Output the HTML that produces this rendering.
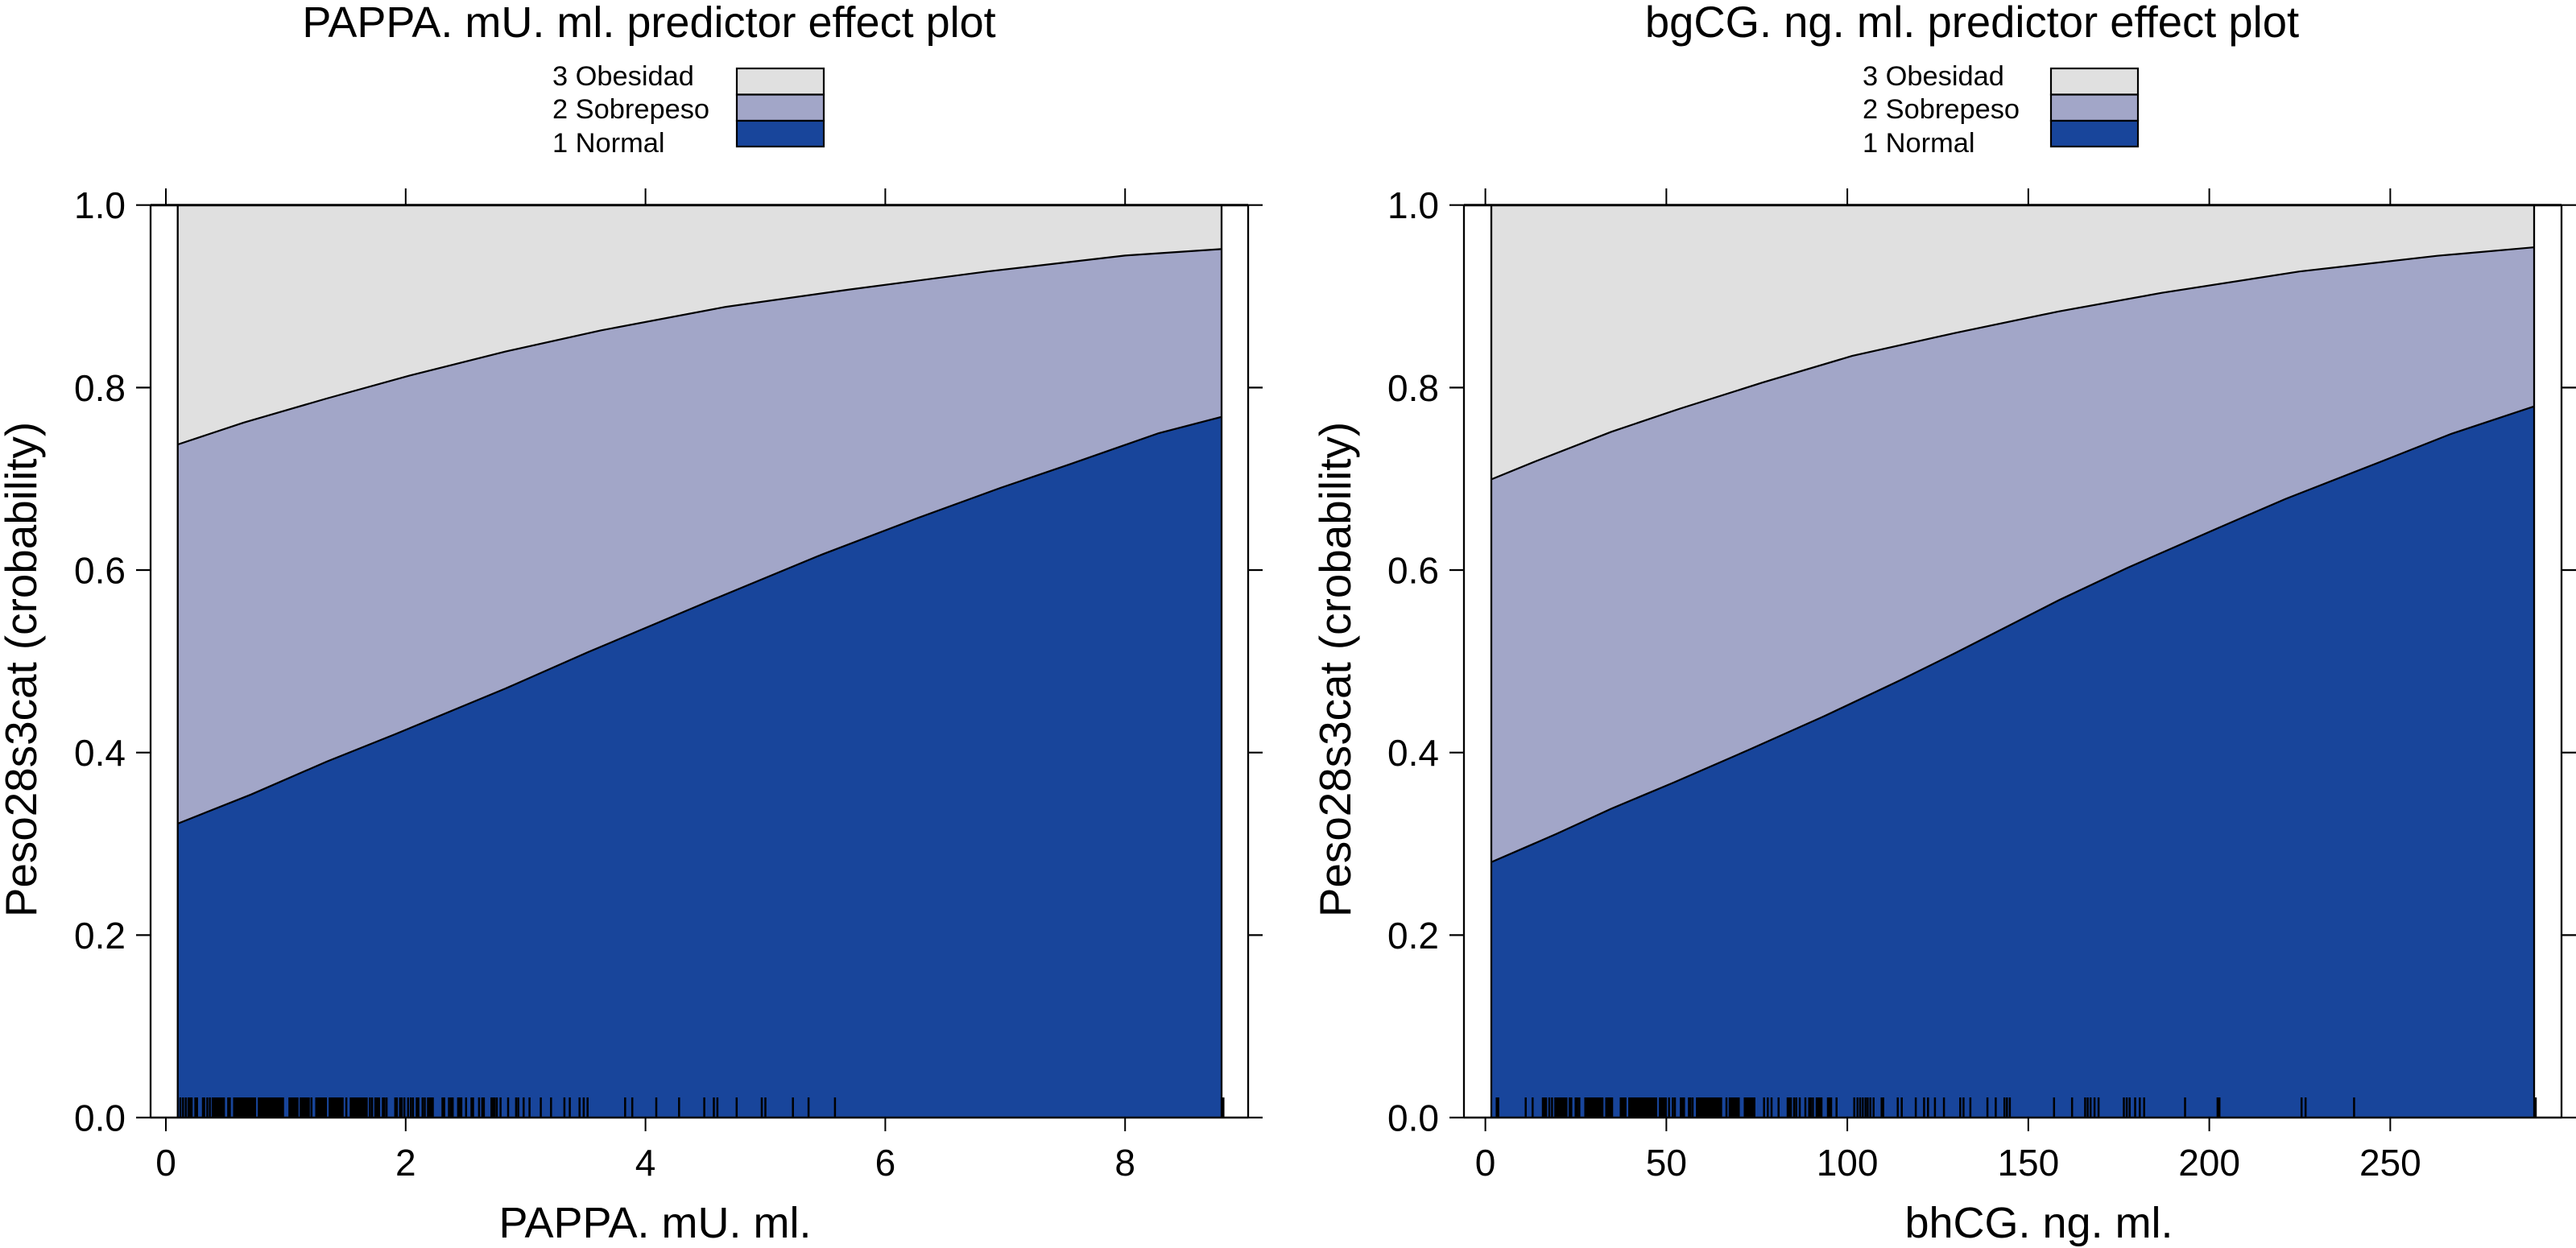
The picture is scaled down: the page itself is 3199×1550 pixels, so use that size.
<!DOCTYPE html>
<html lang="en">
<head>
<meta charset="utf-8">
<title>Predictor effect plots</title>
<style>
html,body{margin:0;padding:0;background:#fff;}
svg{display:block;font-family:"Liberation Sans",Arial,sans-serif;}
</style>
</head>
<body>
<svg id="chart" xmlns="http://www.w3.org/2000/svg" width="3199" height="1550" viewBox="0 0 3199 1550"></svg>
<script>
/* ---------- shared labels and ticks ---------- */
const yTicks = [0, 0.2, 0.4, 0.6, 0.8, 1.0];
const yTickLabels = ["0.0", "0.2", "0.4", "0.6", "0.8", "1.0"];
const legendLabels = ["3 Obesidad", "2 Sobrepeso", "1 Normal"];
const yTitle = "Peso28s3cat (crobability)";

/* ---------- PAPPA panel data ---------- */
const pappaTicks = [0, 2, 4, 6, 8];
const pappaRange = [0.1, 8.8];
const pappaNormalX = [0.1, 0.71, 1.34, 1.91, 2.83, 3.52, 4.55, 5.47, 6.27, 6.96, 7.54, 8.28, 8.8];
const pappaNormalCum = [0.3222, 0.354, 0.39, 0.42, 0.47, 0.51, 0.567, 0.617, 0.657, 0.69, 0.716, 0.75, 0.7678];
const pappaSobrepesoX = [0.1, 0.65, 1.34, 2.03, 2.83, 3.63, 4.67, 5.7, 6.85, 8.0, 8.8];
const pappaSobrepesoCum = [0.7377, 0.7617, 0.788, 0.813, 0.8394, 0.8627, 0.8885, 0.9074, 0.9272, 0.9447, 0.9517];
const pappaRug = [0.121,0.143,0.166,0.188,0.202,0.215,0.246,0.260,0.309,0.320,0.345,0.367,
0.390,0.403,0.417,0.430,0.443,0.457,0.470,0.484,0.520,0.533,
0.569,0.582,0.596,0.609,0.623,0.636,0.650,0.663,0.676,0.690,0.703,0.717,0.730,0.744,
0.775,0.788,0.802,0.815,0.829,0.842,0.856,0.869,0.882,0.896,0.909,0.923,0.936,0.950,0.963,0.977,
1.030,1.044,1.057,1.071,1.084,1.098,1.124,1.138,1.151,1.165,1.178,1.192,1.214,
1.254,1.268,1.281,1.295,1.308,1.322,1.335,1.366,1.380,1.393,1.407,1.420,1.434,1.447,1.460,1.474,1.505,
1.541,1.554,1.568,1.581,1.595,1.608,1.622,1.635,1.649,1.662,1.675,1.702,1.720,1.747,1.761,1.778,
1.810,1.823,1.841,1.913,1.926,1.953,1.967,1.989,2.020,2.043,2.061,2.092,2.106,2.141,2.159,
2.186,2.200,2.213,2.226,2.307,2.321,2.361,2.379,2.392,2.437,2.450,2.464,2.504,2.549,2.562,2.612,
2.639,2.652,2.715,2.728,2.742,2.760,2.791,2.854,2.921,2.939,2.984,3.033,3.127,3.212,3.324,3.369,3.450,3.485,3.517,
3.83,3.89,4.09,4.28,4.49,4.57,4.60,4.76,4.97,5.00,5.23,5.36,5.58,8.81,8.82];

/* ---------- bhCG panel data ---------- */
const bhcgTicks = [0, 50, 100, 150, 200, 250];
const bhcgRange = [1.6, 289.7];
const bhcgNormalX = [1.5, 19.6, 34.8, 51.9, 72.8, 93.7, 114.6, 129.9, 158.4, 177.4, 202.1, 221.1, 247.7, 266.8, 289.6];
const bhcgNormalCum = [0.2799, 0.3108, 0.3385, 0.367, 0.403, 0.44, 0.4792, 0.5092, 0.5669, 0.6025, 0.6455, 0.678, 0.7192, 0.7492, 0.7792];
const bhcgSobrepesoX = [1.5, 13.9, 34.8, 53.8, 76.6, 101.3, 129.9, 158.4, 186.9, 224.9, 263, 289.6];
const bhcgSobrepesoCum = [0.6994, 0.7192, 0.7515, 0.7769, 0.8055, 0.8346, 0.86, 0.8834, 0.9038, 0.9272, 0.9444, 0.9537];
const bhcgRug = [3.13,3.57,11.14,13.07,15.88,16.33,16.77,17.66,18.41,
19.30,19.74,20.18,20.63,21.07,21.52,21.96,22.41,23.30,23.74,24.93,25.38,25.97,
27.60,28.05,28.49,28.94,29.38,29.83,30.27,30.72,31.16,31.61,32.05,32.35,33.39,33.83,34.28,34.72,35.02,
37.39,37.83,38.28,38.72,39.76,40.21,40.65,41.10,41.54,41.99,42.43,42.88,43.32,43.77,44.21,44.66,45.10,45.55,45.99,46.44,46.88,47.18,
48.22,48.66,49.11,49.55,49.85,50.74,51.78,52.37,54.00,54.45,54.89,56.23,56.67,57.26,
58.45,58.90,59.34,59.79,60.23,60.68,61.12,61.57,62.01,62.46,62.90,63.35,63.79,64.23,64.68,65.13,66.61,
67.50,67.94,68.39,68.83,69.28,69.72,70.02,71.65,72.10,72.54,72.99,73.43,73.88,74.32,
76.99,78.03,79.07,81.0,83.52,83.96,84.41,85.30,85.89,86.85,88.41,89.45,89.89,90.49,91.53,91.97,92.42,92.86,94.64,95.09,95.53,97.01,
101.91,102.80,103.54,104.28,105.02,105.62,106.36,107.25,109.47,109.92,113.92,115.04,
118.9,121.2,122.3,124.2,126.7,131.2,132.1,134.0,138.7,141.0,143.4,144.1,144.9,157.1,162.1,
165.7,166.4,167.2,168.3,169.4,176.4,177.2,178.0,179.5,180.8,182.0,193.3,202.3,202.8,225.5,226.6,240.0,289.9,290.2];

/* ---------- drawing ---------- */
const NS = "http://www.w3.org/2000/svg";
const root = document.getElementById("chart");
const COLORS = { light: "#e0e0e0", mid: "#a2a6c8", dark: "#18459b", ink: "#000" };
const Y0 = 1388, Y1 = 254.7;
const yScale = v => Y0 + (Y1 - Y0) * v;

function mk(parent, tag, attrs, text) {
  const el = document.createElementNS(NS, tag);
  for (const k in attrs) el.setAttribute(k, attrs[k]);
  if (text !== undefined) el.textContent = text;
  parent.appendChild(el);
  return el;
}
function ln(parent, x1, y1, x2, y2, w) {
  return mk(parent, "line", { x1: x1, y1: y1, x2: x2, y2: y2, stroke: COLORS.ink, "stroke-width": w });
}

function drawPanel(p) {
  const xScale = v => p.x0 + p.pxPerUnit * v;
  const aL = p.areaLeft, aR = p.areaRight;

  const g = mk(root, "g", {});
  
  

  const title = mk(g, "text", { x: p.titleX, y: 46, "text-anchor": "middle", "font-size": p.titleSize }, p.title);
  
  

  /* legend */
  const legend = mk(g, "g", {});
  
  
  const swatchFill = [COLORS.light, COLORS.mid, COLORS.dark];
  const swatchTop = [85, 117.5, 150];
  const swatchBottom = [117.5, 150, 182];
  const legendBase = [106, 147, 189];
  legendLabels.forEach((name, i) => {
    const t = mk(legend, "text", { x: p.legendTextX, y: legendBase[i], "font-size": 34.4 }, name);
    
    
    const s = mk(legend, "rect", { x: p.legendBoxX, y: swatchTop[i], width: 108, height: swatchBottom[i] - swatchTop[i], fill: swatchFill[i], stroke: COLORS.ink, "stroke-width": 2.2 });
    
    
  });

  /* stacked areas */
  const lowerPts = p.normalX.map((x, i) => [Math.max(aL, Math.min(aR, xScale(x))), yScale(p.normalCum[i])]);
  const upperPts = p.sobrepesoX.map((x, i) => [Math.max(aL, Math.min(aR, xScale(x))), yScale(p.sobrepesoCum[i])]);
  const toStr = pts => pts.map(q => q[0].toFixed(1) + "," + q[1].toFixed(1)).join(" ");

  const top = mk(g, "rect", { x: aL, y: Y1, width: aR - aL, height: Y0 - Y1, fill: COLORS.light });
  
  

  const mid = mk(g, "polygon", { points: toStr(upperPts) + " " + aR + "," + Y0 + " " + aL + "," + Y0, fill: COLORS.mid });
  
  

  const low = mk(g, "polygon", { points: toStr(lowerPts) + " " + aR + "," + Y0 + " " + aL + "," + Y0, fill: COLORS.dark });
  
  

  const lineU = mk(g, "polyline", { points: toStr(upperPts), fill: "none", stroke: COLORS.ink, "stroke-width": 2.2 });
  
  

  const lineL = mk(g, "polyline", { points: toStr(lowerPts), fill: "none", stroke: COLORS.ink, "stroke-width": 2.2 });
  
  

  /* rug */
  const rug = mk(g, "g", {});
  
  
  p.rug.forEach(v => {
    const r = ln(rug, xScale(v).toFixed(1), 1363, xScale(v).toFixed(1), Y0, 2.5);
    
    
  });

  /* frame */
  const frame = mk(g, "g", {});
  
  
  ln(frame, p.frameLeft, Y1, p.frameLeft, Y0, 2.3);
  ln(frame, p.frameRight, Y1, p.frameRight, Y0, 2.3);
  ln(frame, aL, Y1, aL, Y0, 2.3);
  ln(frame, aR, Y1, aR, Y0, 2.3);
  ln(frame, p.frameLeft, Y1, p.frameRight, Y1, 3);
  ln(frame, p.frameLeft, Y0, p.frameRight, Y0, 2.6);

  /* x axis */
  p.xTicks.forEach(v => {
    const x = xScale(v);
    const tb = ln(g, x, Y0, x, 1405, 2);
    
    
    const tt = ln(g, x, 234, x, Y1, 2);
    
    
    const lab = mk(g, "text", { x: x, y: 1460, "text-anchor": "middle", "font-size": 46 }, String(v));
    
    
  });
  const xt = mk(g, "text", { x: p.xTitleX, y: 1537, "text-anchor": "middle", "font-size": 54 }, p.xTitle);
  
  

  /* y axis */
  yTicks.forEach((v, i) => {
    const y = yScale(v);
    const tl = ln(g, p.frameLeft - 18, y, p.frameLeft, y, 2.2);
    
    
    const tr = ln(g, p.frameRight, y, p.frameRight + 18, y, 2.2);
    
    
    const lab = mk(g, "text", { x: p.frameLeft - 31, y: y + 16.5, "text-anchor": "end", "font-size": 46 }, yTickLabels[i]);
    
    
  });
  const yt = mk(g, "text", { transform: "translate(" + p.yTitleX + ",831.5) rotate(-90)", "text-anchor": "middle", "font-size": 54.8 }, yTitle);
  
  
}

drawPanel({
  key: "pappa",
  title: "PAPPA. mU. ml. predictor effect plot",
  xTitle: "PAPPA. mU. ml.",
  titleSize: 54, titleX: 806, xTitleX: 813.5, yTitleX: 45,
  legendTextX: 686, legendBoxX: 915,
  frameLeft: 187, frameRight: 1550, areaLeft: 220.7, areaRight: 1517,
  x0: 206, pxPerUnit: 148.9,
  xTicks: pappaTicks,
  normalX: pappaNormalX, normalCum: pappaNormalCum,
  sobrepesoX: pappaSobrepesoX, sobrepesoCum: pappaSobrepesoCum,
  rug: pappaRug
});
drawPanel({
  key: "bhcg",
  title: "bgCG. ng. ml. predictor effect plot",
  xTitle: "bhCG. ng. ml.",
  titleSize: 54.4, titleX: 2449, xTitleX: 2532, yTitleX: 1677,
  legendTextX: 2313, legendBoxX: 2547,
  frameLeft: 1818, frameRight: 3181, areaLeft: 1852, areaRight: 3147,
  x0: 1844.6, pxPerUnit: 4.495,
  xTicks: bhcgTicks,
  normalX: bhcgNormalX, normalCum: bhcgNormalCum,
  sobrepesoX: bhcgSobrepesoX, sobrepesoCum: bhcgSobrepesoCum,
  rug: bhcgRug
});
</script>
</body>
</html>
